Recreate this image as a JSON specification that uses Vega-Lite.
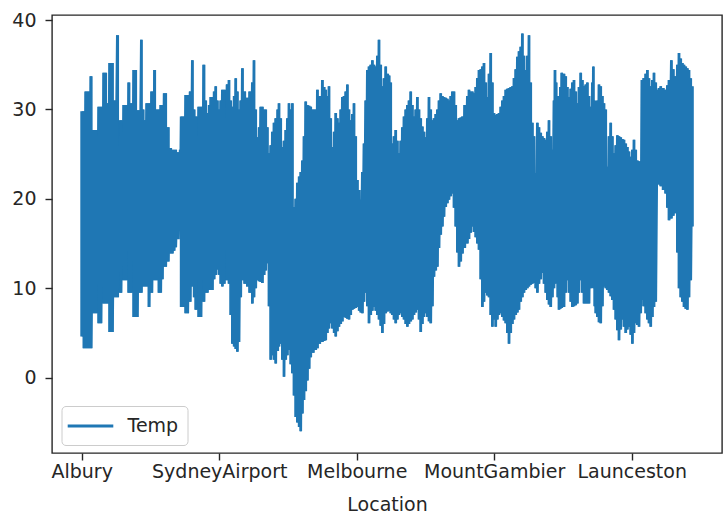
{
"$schema": "https://vega.github.io/schema/vega-lite/v6.json",
"width": 670, "height": 438,
"autosize": {"type": "none"},
"padding": {"left": 52, "top": 15, "right": 6, "bottom": 60},
"background": "white",
"config": {"view": {"stroke": "#262626", "strokeWidth": 1.4}, "font": "DejaVu Sans"},
"data": {"values": [
{"i":0,"hi":29.8,"lo":4.6},{"i":2.3,"hi":29.8,"lo":3.3},{"i":4,"hi":32,"lo":3.3},{"i":6.5,"hi":32,"lo":3.3},{"i":9.3,"hi":33.7,"lo":3.3},{"i":12,"hi":27.7,"lo":7.2},{"i":14,"hi":27.7,"lo":7.2},{"i":17.3,"hi":30.3,"lo":6.1},{"i":19,"hi":30.3,"lo":6.1},{"i":22.3,"hi":34.1,"lo":8.3},{"i":24,"hi":34.1,"lo":8.3},{"i":25.7,"hi":30.7,"lo":8.3},{"i":28,"hi":35.2,"lo":5.1},{"i":30.7,"hi":35.2,"lo":5.1},{"i":33,"hi":31,"lo":9},{"i":35.7,"hi":38.3,"lo":9},{"i":39,"hi":28.8,"lo":9.5},{"i":42.3,"hi":30.5,"lo":10.9},{"i":44,"hi":30.5,"lo":10.9},{"i":47.3,"hi":33,"lo":9.5},{"i":49,"hi":30.7,"lo":9.5},{"i":52.3,"hi":34.4,"lo":6.8},{"i":54,"hi":34.4,"lo":6.8},{"i":55.7,"hi":29.9,"lo":6.8},{"i":57.3,"hi":29.9,"lo":9.5},{"i":59.7,"hi":37.8,"lo":9.5},{"i":61.5,"hi":30,"lo":10.2},{"i":63,"hi":28.8,"lo":10.2},{"i":65,"hi":30.7,"lo":10.2},{"i":67.3,"hi":30.7,"lo":7.9},{"i":70,"hi":32,"lo":9.5},{"i":73,"hi":34.4,"lo":10.9},{"i":75,"hi":30,"lo":10.9},{"i":77.3,"hi":30,"lo":9.5},{"i":79,"hi":30.5,"lo":9.5},{"i":80.7,"hi":30.5,"lo":11},{"i":82.5,"hi":31.8,"lo":12.4},{"i":84,"hi":31.8,"lo":12.4},{"i":86.5,"hi":28,"lo":13},{"i":89,"hi":25.7,"lo":13.9},{"i":90.7,"hi":25.5,"lo":13.9},{"i":92.5,"hi":25.5,"lo":14.2},{"i":94,"hi":25.5,"lo":14.6},{"i":96.5,"hi":25.2,"lo":15.5},{"i":98.5,"hi":25.5,"lo":17.3},
{"i":99.5,"hi":29.2,"lo":7.9},{"i":102,"hi":29.2,"lo":7.9},{"i":104,"hi":31.6,"lo":7.2},{"i":106,"hi":31.6,"lo":7.2},{"i":108.5,"hi":32,"lo":8.5},{"i":110.7,"hi":35.5,"lo":10.2},{"i":112.5,"hi":30,"lo":9},{"i":114,"hi":29.2,"lo":7.6},{"i":117.3,"hi":30.3,"lo":6.8},{"i":119,"hi":30.3,"lo":6.8},{"i":122.3,"hi":35,"lo":8.5},{"i":124,"hi":31,"lo":9.5},{"i":125.7,"hi":29.6,"lo":9.5},{"i":127.5,"hi":30.5,"lo":9.8},{"i":129,"hi":31.4,"lo":9.8},{"i":130.7,"hi":31.4,"lo":9.8},{"i":132.5,"hi":32,"lo":11},{"i":134,"hi":32.6,"lo":11.5},{"i":135.7,"hi":31,"lo":12.1},{"i":137.3,"hi":30,"lo":11.5},{"i":139,"hi":31,"lo":10.5},{"i":140.7,"hi":32.2,"lo":10.2},{"i":142.3,"hi":32.2,"lo":10.5},{"i":145.7,"hi":32.8,"lo":10.9},{"i":147.3,"hi":33.3,"lo":10.5},{"i":149,"hi":31,"lo":7},{"i":150.7,"hi":30.3,"lo":3.8},{"i":152.5,"hi":31.5,"lo":3.5},{"i":154,"hi":33.5,"lo":3.2},{"i":155.7,"hi":32,"lo":2.9},{"i":157.3,"hi":30,"lo":4},{"i":159,"hi":31,"lo":9},{"i":160.7,"hi":34.6,"lo":10.9},{"i":163,"hi":32,"lo":10.5},{"i":165.7,"hi":31.3,"lo":10.2},{"i":168,"hi":32,"lo":9.5},{"i":170.7,"hi":33,"lo":8.3},{"i":172.3,"hi":35.5,"lo":9},{"i":174,"hi":30,"lo":10},{"i":175.7,"hi":26.9,"lo":10.9},{"i":177.5,"hi":28,"lo":10.8},{"i":179,"hi":30.3,"lo":10.7},{"i":180.7,"hi":30.3,"lo":10.6},{"i":182.5,"hi":30,"lo":11.5},{"i":184,"hi":30,"lo":12},{"i":185.7,"hi":28,"lo":12.8},{"i":187.3,"hi":25.1,"lo":8},{"i":189,"hi":26,"lo":2},{"i":190.7,"hi":27.5,"lo":2.5},{"i":192.3,"hi":28.5,"lo":2},{"i":194,"hi":29,"lo":1.6},{"i":196,"hi":30,"lo":3},{"i":197.3,"hi":30.7,"lo":3.5},{"i":199,"hi":29,"lo":3.8},{"i":200.7,"hi":25.8,"lo":2},{"i":202.3,"hi":26.5,"lo":0.1},{"i":204,"hi":27.7,"lo":2},
{"i":205.7,"hi":29,"lo":2.5},{"i":207.3,"hi":30.7,"lo":3.1},{"i":209,"hi":30,"lo":1.5},{"i":210.7,"hi":30.7,"lo":0.5},{"i":212.3,"hi":19.1,"lo":-2},{"i":214,"hi":20,"lo":-4.4},{"i":215.7,"hi":21.8,"lo":-5},{"i":217.5,"hi":22.5,"lo":-5.5},{"i":219,"hi":23,"lo":-6},{"i":220.7,"hi":24.3,"lo":-4},{"i":222.3,"hi":27,"lo":-2.5},{"i":224,"hi":30.9,"lo":-1.5},{"i":225.7,"hi":30.5,"lo":-0.3},{"i":227.5,"hi":30.4,"lo":1},{"i":229,"hi":30.3,"lo":2.3},{"i":231.5,"hi":30,"lo":2.8},{"i":234,"hi":30,"lo":3.1},{"i":235.7,"hi":32.2,"lo":3.3},{"i":238,"hi":31.5,"lo":3.8},{"i":240.7,"hi":33.3,"lo":4},{"i":242.5,"hi":32.5,"lo":4.1},{"i":244,"hi":32.2,"lo":4.2},{"i":245.7,"hi":31.5,"lo":5},{"i":247.3,"hi":32.6,"lo":5.5},{"i":249,"hi":29,"lo":6.1},{"i":250.7,"hi":25.8,"lo":5.5},{"i":252.5,"hi":27.5,"lo":5},{"i":254,"hi":29.6,"lo":4.6},{"i":255.7,"hi":29,"lo":5.2},{"i":257.3,"hi":28.5,"lo":5.7},{"i":259,"hi":30,"lo":6},{"i":260.7,"hi":31.4,"lo":6.3},{"i":262.3,"hi":31.5,"lo":6.8},{"i":264,"hi":32,"lo":6.7},{"i":265.7,"hi":32.8,"lo":6.6},{"i":267.3,"hi":30,"lo":6.5},{"i":269,"hi":28.8,"lo":7},{"i":270.7,"hi":29.5,"lo":7.6},{"i":272.3,"hi":30.7,"lo":7.7},{"i":274,"hi":27,"lo":7.8},{"i":275.7,"hi":22.1,"lo":7.9},{"i":277.5,"hi":21,"lo":7.5},{"i":279,"hi":19.9,"lo":7.3},{"i":280.7,"hi":23,"lo":7.2},{"i":282.3,"hi":26.2,"lo":8.5},{"i":284,"hi":31,"lo":9.5},{"i":285.7,"hi":34.4,"lo":8},{"i":287.3,"hi":34.8,"lo":6.1},{"i":289,"hi":35,"lo":7},{"i":290.7,"hi":35.5,"lo":7.5},{"i":292.3,"hi":35,"lo":7.9},{"i":294,"hi":34.8,"lo":7.5},{"i":295.7,"hi":36,"lo":7},{"i":297.3,"hi":37.8,"lo":6.5},{"i":299,"hi":35,"lo":5.8},{"i":300.7,"hi":32.6,"lo":5},{"i":302.3,"hi":33.5,"lo":6},{"i":304,"hi":34.8,"lo":7.2},{"i":306,"hi":34,"lo":7.4},{"i":307.5,"hi":33.8,"lo":7.5},
{"i":309,"hi":33,"lo":7.2},{"i":310.7,"hi":26.2,"lo":7},{"i":312.3,"hi":27,"lo":6.5},{"i":314,"hi":27.7,"lo":6.1},{"i":315.7,"hi":26.5,"lo":6.5},{"i":317.3,"hi":25.1,"lo":7},{"i":319,"hi":26.5,"lo":7.2},{"i":320.7,"hi":28,"lo":6.8},{"i":322.3,"hi":29.2,"lo":6.5},{"i":324,"hi":30,"lo":6},{"i":325.7,"hi":30.5,"lo":5.7},{"i":327.3,"hi":31,"lo":6},{"i":329,"hi":32,"lo":6.3},{"i":330.7,"hi":30.5,"lo":6.5},{"i":332.3,"hi":29.2,"lo":7},{"i":334,"hi":30,"lo":7.3},{"i":335.7,"hi":31.4,"lo":7.6},{"i":337.3,"hi":30,"lo":6.5},{"i":339,"hi":29,"lo":5.1},{"i":340.7,"hi":28.1,"lo":6},{"i":342.3,"hi":27.5,"lo":6.8},{"i":344,"hi":26.9,"lo":7.2},{"i":345.7,"hi":29,"lo":6.8},{"i":347.3,"hi":31.4,"lo":6.3},{"i":349,"hi":30,"lo":6.1},{"i":350.7,"hi":28.8,"lo":8},{"i":352.3,"hi":29,"lo":11.3},{"i":354,"hi":29.5,"lo":12},{"i":355.7,"hi":30,"lo":12.4},{"i":357.3,"hi":31,"lo":14.5},{"i":359,"hi":31.8,"lo":16},{"i":360.7,"hi":31.5,"lo":16.9},{"i":362.3,"hi":31.4,"lo":18},{"i":364,"hi":31.3,"lo":19.1},{"i":365.7,"hi":31.2,"lo":19.5},{"i":367.3,"hi":31,"lo":19.9},{"i":369,"hi":31.5,"lo":20.3},{"i":370.7,"hi":32,"lo":20.6},{"i":372.3,"hi":32,"lo":19},{"i":374,"hi":30.5,"lo":16.9},{"i":375.7,"hi":28.8,"lo":14},{"i":377.3,"hi":29,"lo":12.4},{"i":379,"hi":29.1,"lo":13},{"i":380.7,"hi":29.2,"lo":13.9},{"i":383,"hi":30.5,"lo":14.5},{"i":385.7,"hi":31.5,"lo":15},{"i":387.3,"hi":32.2,"lo":15.5},{"i":389,"hi":32,"lo":16.2},{"i":390.7,"hi":32,"lo":16.9},{"i":392.3,"hi":31.8,"lo":16.3},{"i":394,"hi":32.5,"lo":15.7},{"i":395.7,"hi":33.5,"lo":15},{"i":397.3,"hi":34.4,"lo":14.3},{"i":399,"hi":34.5,"lo":11},{"i":400.7,"hi":34.8,"lo":7.9},{"i":402.3,"hi":35.2,"lo":8.5},{"i":404,"hi":33,"lo":9.5},{"i":405.7,"hi":31.4,"lo":9.2},{"i":407.3,"hi":34,"lo":9},{"i":409,"hi":36.3,"lo":7},{"i":410.7,"hi":33,"lo":5.7},{"i":412.3,"hi":29.6,"lo":6.5},
{"i":414,"hi":29.4,"lo":5.7},{"i":415.7,"hi":29.5,"lo":6.5},{"i":417.3,"hi":29.6,"lo":7},{"i":419,"hi":30.3,"lo":7.2},{"i":420.7,"hi":31,"lo":6.8},{"i":422.3,"hi":31.5,"lo":6.4},{"i":424,"hi":32.2,"lo":6.1},{"i":425.7,"hi":32.3,"lo":5},{"i":427.3,"hi":32.4,"lo":3.8},{"i":429,"hi":32.5,"lo":5},{"i":430.7,"hi":32.6,"lo":6},{"i":432.3,"hi":33.5,"lo":6.5},{"i":434,"hi":34.5,"lo":7},{"i":435.7,"hi":35.9,"lo":7.3},{"i":437.3,"hi":36.5,"lo":7.6},{"i":439,"hi":37,"lo":8.5},{"i":440.7,"hi":38.5,"lo":9},{"i":442.3,"hi":36,"lo":9.5},{"i":444,"hi":34.4,"lo":9.8},{"i":445.7,"hi":36,"lo":10},{"i":447.3,"hi":38.3,"lo":10.2},{"i":449,"hi":33,"lo":10.4},{"i":450.7,"hi":28.5,"lo":10.5},{"i":452.3,"hi":27,"lo":10.6},{"i":454,"hi":22.9,"lo":10},{"i":455.7,"hi":28.5,"lo":9.5},{"i":457.3,"hi":28,"lo":10.5},{"i":459,"hi":27.4,"lo":11},{"i":460.7,"hi":27,"lo":11.7},{"i":462.3,"hi":26.8,"lo":10.5},{"i":464,"hi":26.6,"lo":9.5},{"i":465.7,"hi":27.5,"lo":8.7},{"i":467.3,"hi":28.8,"lo":8.2},{"i":469,"hi":27,"lo":7.9},{"i":470.7,"hi":25.5,"lo":9},{"i":472.3,"hi":31,"lo":10},{"i":473.3,"hi":34.4,"lo":10.5},{"i":474.5,"hi":33,"lo":10.9},{"i":476,"hi":31.5,"lo":9},{"i":477.3,"hi":30.7,"lo":7.6},{"i":478.7,"hi":32.5,"lo":7.7},{"i":480,"hi":34.1,"lo":7.8},{"i":482.3,"hi":34,"lo":7.9},{"i":484,"hi":33.7,"lo":9.5},{"i":485.7,"hi":32.5,"lo":10.9},{"i":487.3,"hi":31.4,"lo":9.5},{"i":489,"hi":32.3,"lo":8.5},{"i":490.7,"hi":33,"lo":7.9},{"i":492.3,"hi":33.3,"lo":8},{"i":494,"hi":32,"lo":8.1},{"i":495.7,"hi":30.7,"lo":8.3},{"i":497.3,"hi":32.5,"lo":9.5},{"i":499,"hi":34.1,"lo":10.9},{"i":500.7,"hi":33.3,"lo":9.5},{"i":502.3,"hi":32.6,"lo":8.3},{"i":504,"hi":32.8,"lo":8.3},{"i":505.7,"hi":33,"lo":8.3},{"i":507.3,"hi":31.5,"lo":8.3},{"i":509,"hi":30.3,"lo":10},{"i":510.7,"hi":33,"lo":11.7},{"i":511.7,"hi":34.8,"lo":10},{"i":513,"hi":31,"lo":8},{"i":514,"hi":29.6,"lo":7.2},{"i":515.7,"hi":31,"lo":6.8},{"i":517.3,"hi":32.8,"lo":6.2},
{"i":519,"hi":32.6,"lo":6.1},{"i":520.7,"hi":31.5,"lo":8},{"i":522.3,"hi":30.7,"lo":10.2},{"i":524,"hi":30,"lo":10},{"i":525.7,"hi":23.6,"lo":9.8},{"i":527.3,"hi":27,"lo":9.5},{"i":529,"hi":28.5,"lo":9.1},{"i":530.7,"hi":27,"lo":8.7},{"i":532.3,"hi":25.1,"lo":7.6},{"i":534,"hi":26,"lo":6.5},{"i":535.7,"hi":27.1,"lo":5.3},{"i":537.3,"hi":27,"lo":4.2},{"i":539,"hi":26.9,"lo":5.4},{"i":540.7,"hi":26.7,"lo":6.5},{"i":542.3,"hi":26.6,"lo":5.7},{"i":544,"hi":26.2,"lo":5},{"i":545.7,"hi":25.8,"lo":5.4},{"i":547.3,"hi":25.3,"lo":5.7},{"i":549,"hi":24.7,"lo":4.8},{"i":550.7,"hi":25.5,"lo":3.8},{"i":552.3,"hi":26.6,"lo":5},{"i":554,"hi":25.5,"lo":6.1},{"i":555.7,"hi":24.3,"lo":5.9},{"i":557.3,"hi":24.2,"lo":5.7},{"i":559,"hi":24,"lo":7.2},{"i":560.2,"hi":33.3,"lo":8.7},{"i":562,"hi":33.5,"lo":8},{"i":564,"hi":34,"lo":7.2},{"i":565.7,"hi":34.4,"lo":6.5},{"i":567.3,"hi":33.5,"lo":6.1},{"i":569,"hi":32.6,"lo":5.7},{"i":570.7,"hi":33.3,"lo":6.8},{"i":572.3,"hi":34.1,"lo":7.9},{"i":574,"hi":33,"lo":8.5},{"i":575.7,"hi":32.2,"lo":21.8},{"i":577.3,"hi":32.4,"lo":21.6},{"i":579,"hi":32.6,"lo":21.4},{"i":581.5,"hi":32.4,"lo":21},{"i":584,"hi":32.2,"lo":20.6},{"i":585.7,"hi":32.7,"lo":19},{"i":587.3,"hi":33.3,"lo":17.6},{"i":589.7,"hi":35.5,"lo":17.8},{"i":591.5,"hi":34.5,"lo":18.1},{"i":594,"hi":33.7,"lo":18.4},{"i":595.7,"hi":35,"lo":14},{"i":597.3,"hi":36.3,"lo":10},{"i":599,"hi":35.7,"lo":9},{"i":600.7,"hi":35.2,"lo":8.5},{"i":602.3,"hi":35,"lo":7.9},{"i":604,"hi":34.8,"lo":7.7},{"i":605.7,"hi":34.6,"lo":7.6},{"i":607.3,"hi":34.4,"lo":9},{"i":609,"hi":33.5,"lo":10.9},{"i":610.7,"hi":32.6,"lo":16.9}
]},
"layer": [
{"mark": {"type": "area", "interpolate": "step", "color": "#1f77b4"},
 "encoding": {
  "x": {"field": "i", "type": "quantitative",
   "scale": {"domain": [-29.7, 640.3], "nice": false, "zero": false},
   "axis": {"values": [0, 137.5, 275, 412.5, 550],
    "labelExpr": "['Albury','SydneyAirport','Melbourne','MountGambier','Launceston'][round(datum.value/137.5)]",
    "title": "Location", "grid": false, "domain": false, "tickSize": 7, "tickWidth": 1.4, "tickColor": "#262626",
    "labelFontSize": 19, "labelColor": "#262626", "labelPadding": 2, "labelOverlap": false, "labelFlush": false,
    "titleFontSize": 19, "titleFontWeight": "normal", "titleColor": "#262626", "titlePadding": 14}},
  "y": {"field": "lo", "type": "quantitative",
   "scale": {"domain": [-8.42, 40.56], "nice": false, "zero": false},
   "axis": {"values": [0, 10, 20, 30, 40], "title": null, "grid": false, "domain": false, "tickSize": 7, "tickWidth": 1.4, "tickColor": "#262626",
    "labelFontSize": 19, "labelColor": "#262626", "labelPadding": 9}},
  "y2": {"field": "hi"}
 }},
{"transform": [{"fold": ["hi", "lo"], "as": ["k", "Temp"]}],
 "mark": {"type": "line", "strokeWidth": 2.8, "strokeJoin": "bevel"},
 "encoding": {
  "x": {"field": "i", "type": "quantitative"},
  "y": {"field": "Temp", "type": "quantitative"},
  "order": [{"field": "i"}, {"field": "k"}],
  "color": {"datum": "Temp", "scale": {"range": ["#1f77b4"]},
   "legend": {"title": null, "orient": "none", "legendX": 9.5, "legendY": 391, "symbolType": "M-2.4,0H2.4", "symbolSize": 361, "symbolOffset": 9, "symbolStrokeWidth": 2.8,
    "labelFontSize": 19, "labelColor": "#262626", "labelOffset": 26, "padding": 9, "strokeColor": "#cccccc", "fillColor": "rgba(255,255,255,0.8)", "cornerRadius": 4}}
 }}
]
}
